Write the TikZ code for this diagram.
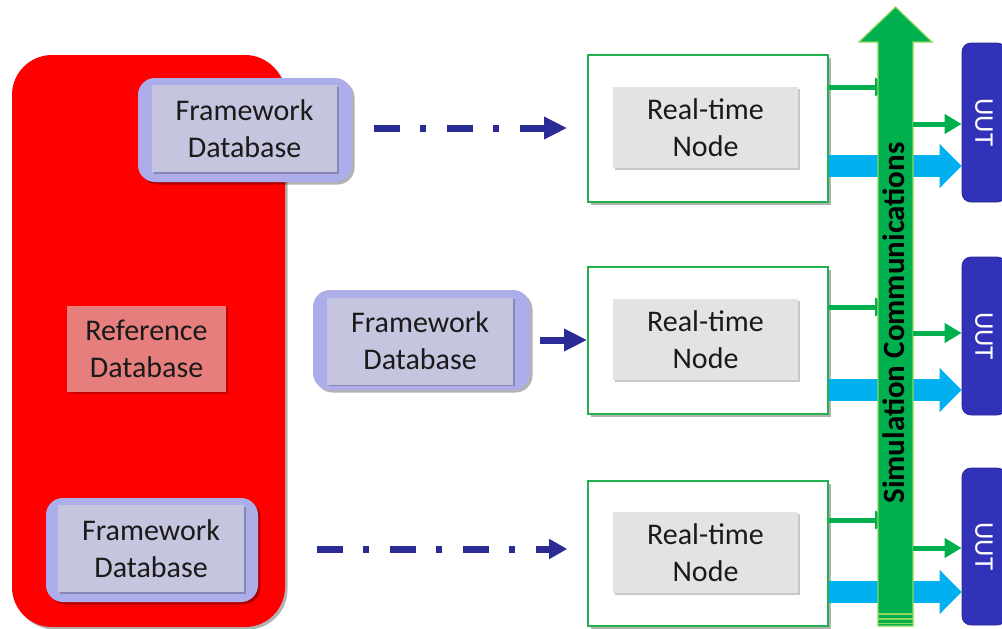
\documentclass[tikz,border=0pt]{standalone}
\usepackage{fontspec}
\setmainfont{Carlito}
\usetikzlibrary{arrows.meta,shadows}
\definecolor{refred}{HTML}{FF0000}
\definecolor{refdb}{HTML}{E67E7E}
\definecolor{fdbo}{HTML}{ADADE9}
\definecolor{fdbi}{HTML}{C5C5DF}
\definecolor{rtgreen}{HTML}{22B14C}
\definecolor{rtgray}{HTML}{E3E3E3}
\definecolor{dblue}{HTML}{2B2B95}
\definecolor{ggreen}{HTML}{00B04F}
\definecolor{glight}{HTML}{8ED85C}
\definecolor{cyanb}{HTML}{00B0F0}
\definecolor{uutblue}{HTML}{3232B9}
\definecolor{txt}{HTML}{1A1A1A}
\begin{document}
\begin{tikzpicture}[x=1pt,y=-1pt,
  shad/.style={drop shadow={shadow xshift=2.5pt,shadow yshift=-2.5pt,opacity=.3,fill=black}},
  softshad/.style={drop shadow={shadow xshift=1.5pt,shadow yshift=-1.5pt,opacity=.22,fill=black}},
  redbox/.style={fill=refred,rounded corners=40pt,inner sep=0pt,minimum width=273pt,minimum height=572pt,shad},
  refbox/.style={fill=refdb,inner sep=0pt,minimum width=159pt,minimum height=86pt,align=center,text=txt,
    font=\fontsize{30}{37}\selectfont,softshad},
  fdbout/.style={fill=fdbo,rounded corners=17pt,inner sep=0pt,shad},
  fdbin/.style={fill=fdbi,inner sep=0pt,minimum height=87pt,align=center,text=txt,
    font=\fontsize{30}{37}\selectfont,softshad},
  rtout/.style={draw=rtgreen,line width=1.6pt,fill=white,inner sep=0pt,minimum width=240pt,shad},
  rtin/.style={fill=rtgray,inner sep=0pt,minimum width=185pt,minimum height=81pt,align=center,text=txt,
    font=\fontsize{30}{37}\selectfont,softshad},
  dda/.style={draw=dblue,line width=7pt,dash pattern=on 26pt off 20pt on 6pt off 21pt,
    -{Triangle[length=23pt,width=21pt]}},
  gin/.style={draw=ggreen,line width=5pt,-{Triangle[length=15pt,width=18pt]}},
  gout/.style={draw=ggreen,line width=5pt,-{Triangle[length=17pt,width=19pt]}},
  barrow/.style={draw=cyanb,line width=22pt,-{Triangle[length=22pt,width=43pt]}},
  uut/.style={fill=uutblue,draw=uutblue!80!black,line width=0.8pt,rounded corners=9pt,inner sep=0pt,
    rotate=-90,minimum height=44pt,text=white,font=\fontsize{27}{27}\selectfont}
]
\useasboundingbox (0,0) rectangle (1002,629);

% reference area
\node[redbox] (refbg) at (148.5,341) {};
\node[refbox] (refdb) at (146.5,349) {Reference\\Database};

% framework databases
\node[fdbout,minimum width=214pt,minimum height=104pt] (fo1) at (245,130) {};
\node[fdbin,minimum width=185pt] (f1) at (244.5,128.5) {Framework\\Database};
\node[fdbout,minimum width=217pt,minimum height=100pt] (fo2) at (421.5,340) {};
\node[fdbin,minimum width=186pt] (f2) at (420,341) {Framework\\Database};
\node[fdbout,minimum width=212pt,minimum height=104pt] (fo3) at (152,550) {};
\node[fdbin,minimum width=186pt] (f3) at (151,548.5) {Framework\\Database};

% real-time nodes
\node[rtout,minimum height=147pt] (rt1) at (708,128.5) {};
\node[rtin] (r1) at (705.5,127.5) {Real-time\\Node};
\node[rtout,minimum height=147pt] (rt2) at (708,340.5) {};
\node[rtin] (r2) at (705.5,339.5) {Real-time\\Node};
\node[rtout,minimum height=145pt] (rt3) at (708,553.5) {};
\node[rtin] (r3) at (705.5,552.5) {Real-time\\Node};

% UUT boxes (rotated: their south side faces left)
\node[uut,minimum width=159pt] (u1) at (984,122.5) {UUT};
\node[uut,minimum width=158pt] (u2) at (984,336) {UUT};
\node[uut,minimum width=157pt] (u3) at (984,546.5) {UUT};

% dash-dot arrows
\draw[dda,shorten <=22pt,shorten >=20pt] ([yshift=2pt]fo1.east) -- ([yshift=2pt]fo1.east -| rt1.west);
\draw[dda,shorten <=10pt] (fo2.east) -- (fo2.east -| rt2.west);
\draw[dda,shorten <=59pt,shorten >=20pt,-{Triangle[length=18pt,width=19pt]}] ([yshift=1pt]fo3.east) -- ([yshift=1pt]fo3.east -| rt3.west);

% coordinates on the bus
\coordinate (gi1) at (890,87);
\coordinate (gi2) at (890,307);
\coordinate (gi3) at (890,520);
\coordinate (go1) at (913,124);
\coordinate (go2) at (913,333);
\coordinate (go3) at (913,548);
\coordinate (bl1) at (828,166);
\coordinate (bl2) at (828,390);
\coordinate (bl3) at (828,592);

% node to bus
\draw[gin] (rt1.east |- gi1) -- (gi1);
\draw[gin] (rt2.east |- gi2) -- (gi2);
\draw[gin] (rt3.east |- gi3) -- (gi3);

% blue arrows
\draw[barrow] (rt1.east |- bl1) -- (bl1 -| u1.south);
\draw[barrow] (rt2.east |- bl2) -- (bl2 -| u2.south);
\draw[barrow] (rt3.east |- bl3) -- (bl3 -| u3.south);

% big simulation communications arrow
\path[fill=ggreen,draw=glight,line width=1.2pt]
  (878,626) -- (878,42) -- (859,42) -- (895.5,7) -- (932,42) -- (913,42) -- (913,626) -- cycle;
\draw[glight,line width=1.3pt] (878,614) -- (913,614) (878,619) -- (913,619) (878,623.5) -- (913,623.5);
\node[rotate=90,text=black,font=\bfseries\fontsize{31}{31}\selectfont] (sim) at (894,323) {Simulation Communications};

% bus to UUT
\draw[gout] (go1) -- (go1 -| u1.south);
\draw[gout] (go2) -- (go2 -| u2.south);
\draw[gout] (go3) -- (go3 -| u3.south);
\end{tikzpicture}
\end{document}
